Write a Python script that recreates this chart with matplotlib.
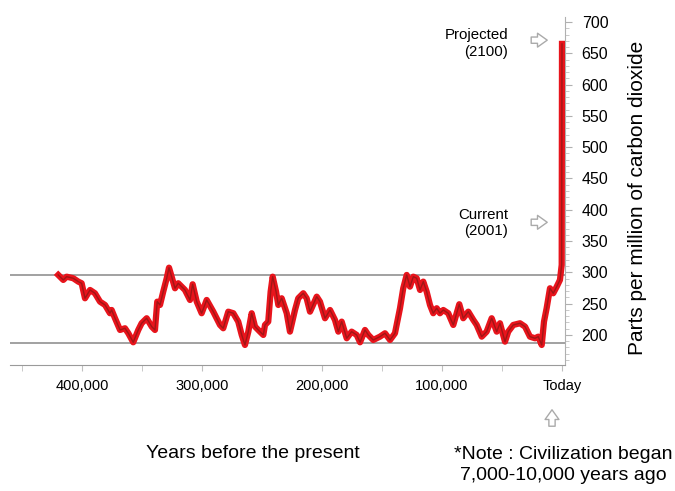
import matplotlib
matplotlib.use("Agg")
import matplotlib.pyplot as plt
from matplotlib.ticker import MultipleLocator

plt.rcParams['font.family'] = ['Liberation Sans', 'DejaVu Sans']

# thousands of years before present, CO2 in ppm
kyr = [419.8, 415.6, 412.8, 407.3, 403.1, 400.3, 397.5, 393.3, 389.2, 385.0,
       380.8, 376.7, 375.3, 372.5, 368.3, 364.2, 361.4, 357.3, 353.1, 350.3,
       346.1, 341.9, 339.2, 337.3, 335.0, 332.3, 329.4, 327.5, 325.3, 322.5,
       319.8, 314.2, 310.0, 307.8, 304.4, 300.3, 296.1, 290.6, 285.0, 282.3,
       278.1, 273.9, 269.8, 266.9, 264.2, 261.4, 258.6, 255.8, 251.7, 248.9,
       247.5, 244.8, 242.8, 241.1, 238.3, 236.4, 233.6, 229.4, 226.7, 222.5,
       219.8, 215.6, 212.8, 210.0, 204.4, 201.7, 197.5, 193.3, 189.2, 186.4,
       183.6, 179.4, 175.3, 171.1, 168.3, 164.2, 161.4, 157.3, 151.7, 147.5,
       143.3, 139.2, 135.0, 132.3, 129.4, 126.7, 123.9, 121.1, 118.3, 115.6,
       112.8, 110.0, 107.3, 104.4, 101.7, 98.9, 94.8, 90.6, 85.6, 82.3,
       78.1, 73.9, 71.1, 66.9, 62.8, 58.6, 54.4, 51.7, 47.5, 44.8,
       40.6, 35.0, 30.8, 26.7, 22.5, 19.8, 16.9, 15.0, 12.8, 10.0,
       7.3, 4.4, 1.7, 0.25, 0.0]
ppm = [295.9, 287.9, 293.1, 290.6, 285.2, 282.6, 258.6, 271.9, 266.6, 253.2,
       247.9, 234.7, 239.9, 226.7, 208.0, 210.7, 202.7, 188.3, 208.0, 218.7,
       226.7, 213.3, 208.0, 253.2, 247.9, 269.2, 290.6, 307.5, 293.1, 274.6,
       282.6, 271.9, 255.9, 281.0, 253.2, 234.7, 255.9, 237.2, 216.0, 210.7,
       237.2, 234.7, 221.3, 200.0, 184.0, 205.3, 234.7, 213.3, 205.3, 200.0,
       216.0, 221.3, 269.2, 293.1, 269.2, 247.9, 258.6, 234.7, 205.3, 239.9,
       258.6, 266.6, 258.6, 237.2, 261.2, 253.2, 226.7, 239.9, 224.0, 205.3,
       221.3, 194.7, 205.3, 200.0, 188.3, 208.0, 200.0, 192.0, 197.3, 202.7,
       192.0, 202.7, 242.7, 274.6, 295.9, 277.2, 293.1, 290.6, 271.9, 285.2,
       269.2, 247.9, 234.7, 242.7, 234.7, 239.9, 234.7, 216.0, 249.1, 226.7,
       237.2, 224.0, 216.0, 197.3, 205.3, 226.7, 205.3, 218.7, 189.3, 205.3,
       216.0, 218.7, 213.3, 197.3, 194.7, 197.3, 184.0, 221.3, 242.7, 274.6,
       266.6, 277.2, 287.9, 311.8, 665.0]

ref_lines = [296, 187]
x_ticks = [400, 300, 200, 100, 0]
x_labels = ['400,000', '300,000', '200,000', '100,000', 'Today']

fig = plt.figure(figsize=(6.75, 4.91), dpi=100)
ax = fig.add_axes([10 / 675, 1 - 365 / 491, 555 / 675, 348 / 491])

grey = '#9a9a9a'
for v in ref_lines:
    ax.axhline(v, color=grey, lw=1.3, zorder=1)

ax.plot(kyr, ppm, color='#e8141c', lw=4.5, solid_joinstyle='round', zorder=3)
ax.plot(kyr, ppm, color='#a01616', lw=1.0, solid_joinstyle='round', zorder=4)

ax.set_xlim(460, -2.5)
ax.set_ylim(152, 708)

for s in ['top', 'left']:
    ax.spines[s].set_visible(False)
ax.spines['bottom'].set_color(grey)
ax.spines['right'].set_color('#b0b0b0')

ax.yaxis.tick_right()
ax.yaxis.set_label_position('right')
ax.set_yticks(range(200, 701, 50))
ax.yaxis.set_minor_locator(MultipleLocator(10))
ax.tick_params(axis='y', which='major', length=5, color='#b0b0b0',
               labelsize=11.5, pad=7)
ax.tick_params(axis='y', which='minor', length=3, color='#c0c0c0')
ax.set_ylabel('Parts per million of carbon dioxide', fontsize=15)
ax.yaxis.set_label_coords(1.114, 0.481)

ax.set_xticks(x_ticks)
ax.set_xticklabels(x_labels)
ax.xaxis.set_minor_locator(MultipleLocator(50))
ax.tick_params(axis='x', which='both', length=4, color='#c0c0c0',
               labelsize=10.5, pad=6)

arrow = dict(arrowstyle='simple,head_length=0.7,head_width=1.0,tail_width=0.45',
             fc='white', ec='#aaaaaa', lw=1)
ax.annotate('', xy=(10, 671), xytext=(28, 671), arrowprops=arrow)
ax.annotate('', xy=(10, 380), xytext=(28, 380), arrowprops=arrow)
ax.text(45, 666, 'Projected\n(2100)', ha='right', va='center', fontsize=10.8,
        linespacing=1.25)
ax.text(45, 379, 'Current\n(2001)', ha='right', va='center', fontsize=10.8,
        linespacing=1.25)

ax.annotate('', xy=(552, 491 - 407), xytext=(552, 491 - 429),
            xycoords='figure pixels', textcoords='figure pixels',
            arrowprops=arrow)

fig.text(253 / 675, 1 - 453 / 491, 'Years before the present', ha='center',
         va='center', fontsize=14)
fig.text(563 / 675, 1 - 465 / 491,
         '*Note : Civilization began\n7,000-10,000 years ago', ha='center',
         va='center', fontsize=14, linespacing=1.3)

fig.savefig('out.png', dpi=100)
